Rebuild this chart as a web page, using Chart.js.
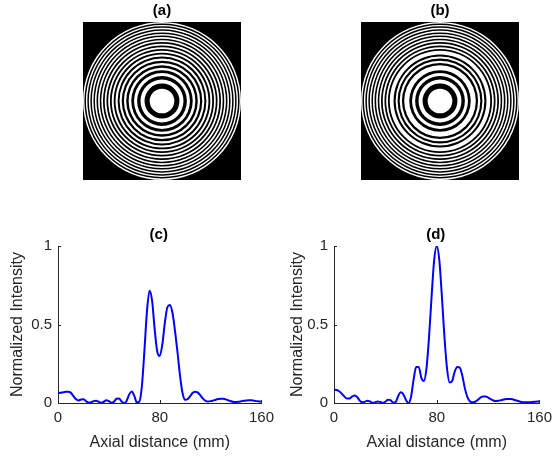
<!DOCTYPE html>
<html>
<head>
<meta charset="utf-8">
<script src="https://cdn.jsdelivr.net/npm/chart.js@4.4.1/dist/chart.umd.min.js"></script>
<style>
  html, body { margin: 0; padding: 0; background: #fff; }
  body { width: 558px; height: 459px; position: relative; overflow: hidden; }
  .panel { position: absolute; }
</style>
</head>
<body>
<div class="panel" style="left:83px;top:0px;"><canvas id="plateA" width="158" height="180"></canvas></div>
<div class="panel" style="left:361px;top:0px;"><canvas id="plateB" width="158" height="180"></canvas></div>
<div class="panel" style="left:0px;top:225px;"><canvas id="profileC" width="280" height="234"></canvas></div>
<div class="panel" style="left:276px;top:225px;"><canvas id="profileD" width="282" height="234"></canvas></div>

<script>
// --- data ---
// zone boundaries (outer radius of each zone, normalized to plate radius), zone 1 = white centre
const zonesA = [0.156, 0.221, 0.272, 0.315, 0.354, 0.389, 0.422, 0.453, 0.482, 0.510,
  0.537, 0.562, 0.588, 0.612, 0.636, 0.659, 0.681, 0.703, 0.725, 0.747,
  0.768, 0.788, 0.809, 0.829, 0.849, 0.868, 0.888, 0.907, 0.926, 0.945,
  0.963, 0.982, 1.0];
const zonesB = [0.156, 0.221, 0.272, 0.315, 0.354, 0.389, 0.453, 0.482, 0.510,
  0.537, 0.562, 0.588, 0.636, 0.659, 0.681, 0.703, 0.725, 0.747,
  0.768, 0.788, 0.809, 0.829, 0.849, 0.868, 0.888, 0.907, 0.926, 0.945,
  0.963, 0.982, 1.0];

const axialMm = [0, 2, 4, 6, 8, 10, 12, 14, 16, 18, 20, 22, 24, 26, 28, 30, 32, 34, 36, 38,
  40, 42, 44, 46, 48, 50, 52, 54, 56, 58, 60, 62, 64, 66, 68, 70, 72, 74, 76, 78,
  80, 82, 84, 86, 88, 90, 92, 94, 96, 98, 100, 102, 104, 106, 108, 110, 112, 114, 116, 118,
  120, 122, 124, 126, 128, 130, 132, 134, 136, 138, 140, 142, 144, 146, 148, 150, 152, 154, 156, 158, 160];
const intensityC = [0.063, 0.065, 0.068, 0.071, 0.072, 0.066, 0.045, 0.025, 0.016, 0.022,
  0.024, 0.012, 0.003, 0.004, 0.012, 0.015, 0.008, 0.001, 0.008, 0.017,
  0.012, 0.002, 0.008, 0.027, 0.028, 0.010, 0.000, 0.015, 0.055, 0.074,
  0.045, 0.003, 0.010, 0.110, 0.340, 0.590, 0.715, 0.650, 0.470, 0.330,
  0.300, 0.370, 0.510, 0.610, 0.625, 0.575, 0.460, 0.320, 0.170, 0.060,
  0.020, 0.025, 0.045, 0.065, 0.072, 0.066, 0.048, 0.028, 0.014, 0.010,
  0.012, 0.016, 0.021, 0.025, 0.027, 0.027, 0.023, 0.017, 0.011, 0.007,
  0.006, 0.008, 0.011, 0.014, 0.016, 0.017, 0.017, 0.015, 0.012, 0.010, 0.008];
const intensityD = [0.085, 0.083, 0.075, 0.060, 0.042, 0.028, 0.028, 0.040, 0.047, 0.038,
  0.015, 0.004, 0.008, 0.015, 0.010, 0.001, 0.004, 0.010, 0.006, 0.000,
  0.008, 0.020, 0.018, 0.003, 0.006, 0.045, 0.068, 0.055, 0.020, 0.000,
  0.040, 0.150, 0.230, 0.230, 0.160, 0.140, 0.220, 0.420, 0.680, 0.910,
  1.000, 0.910, 0.680, 0.420, 0.220, 0.130, 0.140, 0.200, 0.230, 0.225,
  0.170, 0.090, 0.035, 0.010, 0.004, 0.008, 0.020, 0.034, 0.041, 0.042,
  0.035, 0.024, 0.016, 0.013, 0.014, 0.018, 0.022, 0.025, 0.026, 0.025,
  0.021, 0.016, 0.011, 0.007, 0.005, 0.004, 0.004, 0.006, 0.008, 0.009, 0.010];
const xTicks = [0, 80, 160];
const yTicks = [0, 0.5, 1];

const FONT = "'Liberation Sans', Arial, Helvetica, sans-serif";
const AXIS = '#262626';

// --- plugins ---
// panel label "(a)" etc. above the plot area
const panelTitle = {
  id: 'panelTitle',
  afterDraw(chart, args, opts) {
    const { ctx, chartArea: a } = chart;
    ctx.save();
    ctx.font = 'bold 15px ' + FONT;
    ctx.fillStyle = '#000';
    ctx.textAlign = 'center';
    ctx.textBaseline = 'middle';
    ctx.fillText(opts.text, (a.left + a.right) / 2 + (opts.dx || 0), a.top - opts.dy);
    ctx.restore();
  }
};

// black square behind the zone plate
const plateBg = {
  id: 'plateBg',
  beforeDraw(chart) {
    const { ctx, chartArea: a } = chart;
    ctx.save();
    ctx.fillStyle = '#000';
    ctx.fillRect(a.left, a.top, a.right - a.left, a.bottom - a.top);
    ctx.restore();
  }
};

// matlab style ticks pointing into the axes
const inwardTicks = {
  id: 'inwardTicks',
  afterDraw(chart) {
    const { ctx, chartArea: a, scales: { x, y } } = chart;
    ctx.save();
    ctx.strokeStyle = AXIS;
    ctx.lineWidth = 1;
    ctx.beginPath();
    xTicks.forEach(v => {
      const px = Math.round(x.getPixelForValue(v)) + 0.5;
      ctx.moveTo(px, a.bottom);
      ctx.lineTo(px, a.bottom - 3);
    });
    yTicks.forEach(v => {
      const py = Math.round(y.getPixelForValue(v)) + 0.5;
      ctx.moveTo(a.left, py);
      ctx.lineTo(a.left + 3, py);
    });
    ctx.stroke();
    ctx.restore();
  }
};

// --- zone plates (polar area, one full disk per zone, centre drawn on top) ---
function plateChart(id, label, zones) {
  const datasets = zones.map((r, i) => ({
    data: [r],
    backgroundColor: i % 2 === 0 ? '#ffffff' : '#000000',
    borderWidth: 0
  }));
  new Chart(document.getElementById(id), {
    type: 'polarArea',
    data: { labels: [''], datasets: datasets },
    options: {
      responsive: false,
      animation: false,
      events: [],
      layout: { padding: { top: 22, left: 0, right: 0, bottom: 0 } },
      scales: { r: { display: false, min: 0, max: 1 } },
      plugins: {
        legend: { display: false },
        tooltip: { enabled: false },
        panelTitle: { text: label, dy: 11.5 }
      }
    },
    plugins: [plateBg, panelTitle]
  });
}

// --- axial intensity profiles ---
function profileChart(id, label, values, yTitlePad) {
  const points = axialMm.map((x, i) => ({ x: x, y: values[i] }));
  new Chart(document.getElementById(id), {
    type: 'line',
    data: {
      datasets: [{
        data: points,
        borderColor: '#0000ff',
        borderWidth: 2,
        pointRadius: 0,
        fill: false,
        cubicInterpolationMode: 'monotone'
      }]
    },
    options: {
      responsive: false,
      animation: false,
      events: [],
      layout: { padding: { top: 21, right: 13, left: 0, bottom: 0 } },
      scales: {
        x: {
          type: 'linear',
          min: 0, max: 160,
          afterBuildTicks: s => { s.ticks = xTicks.map(v => ({ value: v })); },
          afterFit: s => { s.height = 56; },
          grid: { display: false, drawTicks: false },
          border: { display: true, color: AXIS, width: 1 },
          ticks: { padding: 6, color: AXIS, autoSkip: false, maxRotation: 0, font: { family: FONT, size: 15 },
                   callback: v => String(v) },
          title: { display: true, text: 'Axial distance (mm)', color: AXIS, padding: { top: 0, bottom: 7 }, font: { family: FONT, size: 16 } }
        },
        y: {
          min: 0, max: 1,
          afterBuildTicks: s => { s.ticks = yTicks.map(v => ({ value: v })); },
          afterFit: s => { s.width = 58; },
          grid: { display: false, drawTicks: false },
          border: { display: true, color: AXIS, width: 1 },
          ticks: { padding: 6, color: AXIS, font: { family: FONT, size: 15 },
                   callback: v => String(v) },
          title: { display: true, text: 'Normalized Intensity', color: AXIS, padding: { top: yTitlePad, bottom: 0 }, font: { family: FONT, size: 16 } }
        }
      },
      plugins: {
        legend: { display: false },
        tooltip: { enabled: false },
        panelTitle: { text: label, dy: 11, dx: -1 }
      }
    },
    plugins: [inwardTicks, panelTitle]
  });
}

plateChart('plateA', '(a)', zonesA);
plateChart('plateB', '(b)', zonesB);
profileChart('profileC', '(c)', intensityC, 7.5);
profileChart('profileD', '(d)', intensityD, 11.5);
</script>
</body>
</html>
